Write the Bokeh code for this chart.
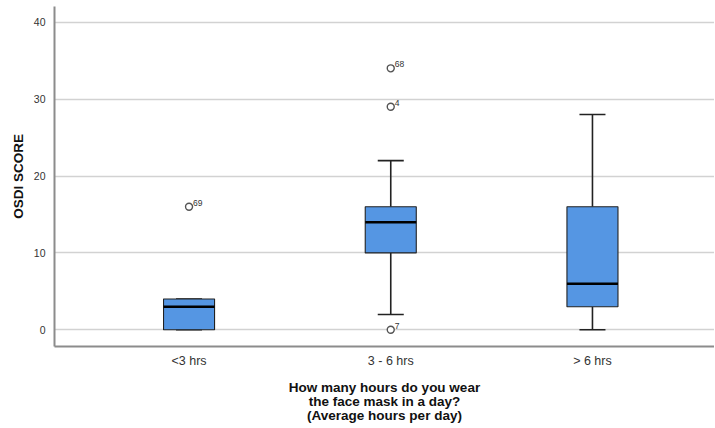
from bokeh.plotting import figure
from bokeh.models import FixedTicker, Range1d, ColumnDataSource
from bokeh.embed import file_html
from bokeh.resources import INLINE
from bokeh.core.properties import value

# ---- data ----
groups = ["<3 hrs", "3 - 6 hrs", "> 6 hrs"]
q1 = [0, 10, 3]
median = [3, 14, 6]
q3 = [4, 16, 16]
whisk_low = [0, 2, 0]
whisk_high = [4, 22, 28]
outlier_group = [1, 2, 2, 2]
outlier_value = [16, 34, 29, 0]
outlier_label = ["69", "68", "4", "7"]
y_ticks = [0, 10, 20, 30, 40]

pos = [1, 2, 3]
box_w = 0.253
cap_w = 0.129

p = figure(width=714, height=427, output_backend="svg", toolbar_location=None,
           x_range=Range1d(0.333, 3.605), y_range=Range1d(-2.17, 42.04),
           min_border_left=54, min_border_right=0, min_border_top=6, min_border_bottom=81)
p.outline_line_color = None
p.background_fill_color = "white"
p.border_fill_color = "white"

# grid
p.xgrid.grid_line_color = None
p.ygrid.ticker = FixedTicker(ticks=y_ticks)
p.ygrid.grid_line_color = "#d2d2d2"
p.ygrid.grid_line_width = 1.5

# axes
for ax in (p.xaxis[0], p.yaxis[0]):
    ax.axis_line_color = "#8c8c8c"
    ax.axis_line_width = 2
    ax.major_tick_line_color = None
    ax.minor_tick_line_color = None
    ax.major_tick_out = 0
    ax.major_tick_in = 0
    ax.major_label_text_font = "Liberation Sans"
    ax.major_label_text_color = "#333333"
    ax.axis_label_text_font = "Liberation Sans"
    ax.axis_label_text_font_style = "bold"
    ax.axis_label_text_font_size = "13.5px"
    ax.axis_label_text_color = "#111111"
    ax.axis_label_text_line_height = 0.95

p.yaxis.ticker = FixedTicker(ticks=y_ticks)
p.yaxis.major_label_text_font_size = "10.5px"
p.yaxis.major_label_standoff = 9
p.yaxis.axis_label = "OSDI SCORE"
p.yaxis.axis_label_standoff = 5

p.xaxis.ticker = FixedTicker(ticks=pos)
p.xaxis.major_label_overrides = {pp: g for pp, g in zip(pos, groups)}
p.xaxis.major_label_text_font_size = "12.5px"
p.xaxis.major_label_standoff = 7
p.xaxis.axis_label = "How many hours do you wear\nthe face mask in a day?\n(Average hours per day)"
p.xaxis.axis_label_standoff = 9

# whiskers
p.segment(x0=pos, y0=q3, x1=pos, y1=whisk_high, line_color="#222222", line_width=1.6)
p.segment(x0=pos, y0=q1, x1=pos, y1=whisk_low, line_color="#222222", line_width=1.6)
p.segment(x0=[x - cap_w / 2 for x in pos], y0=whisk_high,
          x1=[x + cap_w / 2 for x in pos], y1=whisk_high, line_color="#222222", line_width=1.6)
p.segment(x0=[x - cap_w / 2 for x in pos], y0=whisk_low,
          x1=[x + cap_w / 2 for x in pos], y1=whisk_low, line_color="#222222", line_width=1.6)

# boxes
p.vbar(x=pos, width=box_w, bottom=q1, top=q3, fill_color="#5596e3",
       line_color="#222222", line_width=1.1)
# medians
p.segment(x0=[x - box_w / 2 for x in pos], y0=median,
          x1=[x + box_w / 2 for x in pos], y1=median, line_color="#000000", line_width=2.5)

# outliers
src = ColumnDataSource(dict(x=[pos[g - 1] for g in outlier_group], y=outlier_value,
                            lab=outlier_label))
p.scatter(x="x", y="y", source=src, marker="circle", size=7, fill_color="white",
          line_color="#555555", line_width=1.4)
p.text(x="x", y="y", text="lab", source=src, x_offset=4, y_offset=-4,
       text_font=value("Liberation Sans"), text_font_size="8.5px", text_color="#333333",
       text_baseline="alphabetic", text_align="left")

open("out.html", "w").write(file_html(p, INLINE))
